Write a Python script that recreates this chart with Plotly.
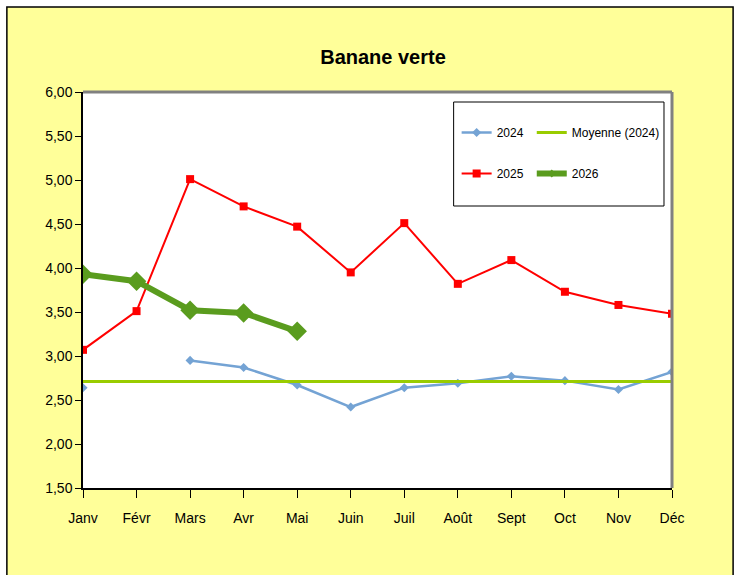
import plotly.graph_objects as go

months = ['Janv', 'Févr', 'Mars', 'Avr', 'Mai', 'Juin', 'Juil', 'Août', 'Sept', 'Oct', 'Nov', 'Déc']
prix_2024 = [2.64, None, 2.95, 2.87, 2.67, 2.42, 2.64, 2.69, 2.77, 2.72, 2.62, 2.82]
prix_2025 = [3.07, 3.51, 5.01, 4.70, 4.47, 3.95, 4.51, 3.82, 4.09, 3.73, 3.58, 3.48]
prix_2026 = [3.93, 3.85, 3.52, 3.49, 3.28]
moyenne_2024 = [2.71] * 12

FONT = "Liberation Sans Narrow, Arial Narrow, Liberation Sans, Arial, sans-serif"
BLUE, RED, LIME, GREEN = '#74A3D4', '#FF0000', '#99CC00', '#5A9C1E'

fig = go.Figure()

fig.add_trace(go.Scatter(
    x=months, y=prix_2024, name='2024', mode='lines+markers',
    line=dict(color=BLUE, width=2.5),
    marker=dict(symbol='diamond', size=7, color=BLUE),
    connectgaps=False, legend='legend', legendgroup='a'
))
fig.add_trace(go.Scatter(
    x=months, y=prix_2025, name='2025', mode='lines+markers',
    line=dict(color=RED, width=2),
    marker=dict(symbol='square', size=8, color=RED),
    legend='legend', legendgroup='b'
))
fig.add_trace(go.Scatter(
    x=months, y=moyenne_2024, name='Moyenne (2024)', mode='lines',
    line=dict(color=LIME, width=3),
    legend='legend2', legendgroup='c'
))
fig.add_trace(go.Scatter(
    x=months[:len(prix_2026)], y=prix_2026, name='2026', mode='lines+markers',
    line=dict(color=GREEN, width=6),
    marker=dict(symbol='diamond', size=15, color=GREEN),
    showlegend=False
))
# legend entry for 2026 with a small marker, as in the original
fig.add_trace(go.Scatter(
    x=[None], y=[None], name='2026', mode='lines+markers',
    line=dict(color=GREEN, width=6),
    marker=dict(symbol='diamond', size=6, color=GREEN),
    legend='legend2', legendgroup='d'
))

# plot area: x 83..671, y 92..488 px
pw, ph = 588.0, 396.0
fig.update_layout(
    width=739, height=575,
    margin=dict(l=83, r=67, t=92, b=87),
    paper_bgcolor='white',
    plot_bgcolor='white',
    separators=', ',
    font=dict(family=FONT, size=14, color='black'),
    title=dict(text='<b>Banane verte</b>', x=383 / 739, xref='container', xanchor='center',
               y=1 - 57 / 575, yref='container', yanchor='middle',
               font=dict(family=FONT, size=20, color='black')),
    xaxis=dict(range=[0, 11], showgrid=False, zeroline=False, showline=True,
               linecolor='black', linewidth=1.5, ticks='outside', ticklen=8,
               tickcolor='black', tickfont=dict(size=14), ticklabelstandoff=8),
    yaxis=dict(range=[1.5, 6], dtick=0.5, tickformat='.2f', showgrid=False, zeroline=False,
               showline=True, linecolor='black', linewidth=1.5, ticks='outside', ticklen=6,
               tickcolor='black', tickfont=dict(size=14)),
    legend=dict(x=(456 - 83) / pw, y=(488 - 118) / ph, xanchor='left', yanchor='top',
                bgcolor='rgba(0,0,0,0)', font=dict(family=FONT, size=12),
                traceorder='grouped', tracegroupgap=22, itemwidth=30),
    legend2=dict(x=(531 - 83) / pw, y=(488 - 118) / ph, xanchor='left', yanchor='top',
                 bgcolor='rgba(0,0,0,0)', font=dict(family=FONT, size=12),
                 traceorder='grouped', tracegroupgap=22, itemwidth=30),
    shapes=[
        # outer chart frame (yellow)
        dict(type='rect', xref='paper', yref='paper',
             x0=(7 - 83) / pw, x1=(732 - 83) / pw,
             y0=(488 - 600) / ph, y1=(488 - 7) / ph,
             line=dict(color='black', width=1.5), fillcolor='#FFFF99', layer='below'),
        # white plot area
        dict(type='rect', xref='paper', yref='paper', x0=0, x1=1, y0=0, y1=1,
             line=dict(width=0), fillcolor='white', layer='below'),
        # gray top and right borders of plot area
        dict(type='line', xref='paper', yref='paper', x0=0, x1=1, y0=1, y1=1,
             line=dict(color='#808080', width=3)),
        dict(type='line', xref='paper', yref='paper', x0=1, x1=1, y0=0, y1=1,
             line=dict(color='#808080', width=3)),
        # legend frame
        dict(type='rect', xref='paper', yref='paper',
             x0=(453 - 83) / pw, x1=(663 - 83) / pw,
             y0=(488 - 206) / ph, y1=(488 - 102) / ph,
             line=dict(color='black', width=1), fillcolor='rgba(0,0,0,0)'),
    ],
)

fig.write_html("out.html", config={'displayModeBar': False},
               post_script="document.body.style.margin='0';")
